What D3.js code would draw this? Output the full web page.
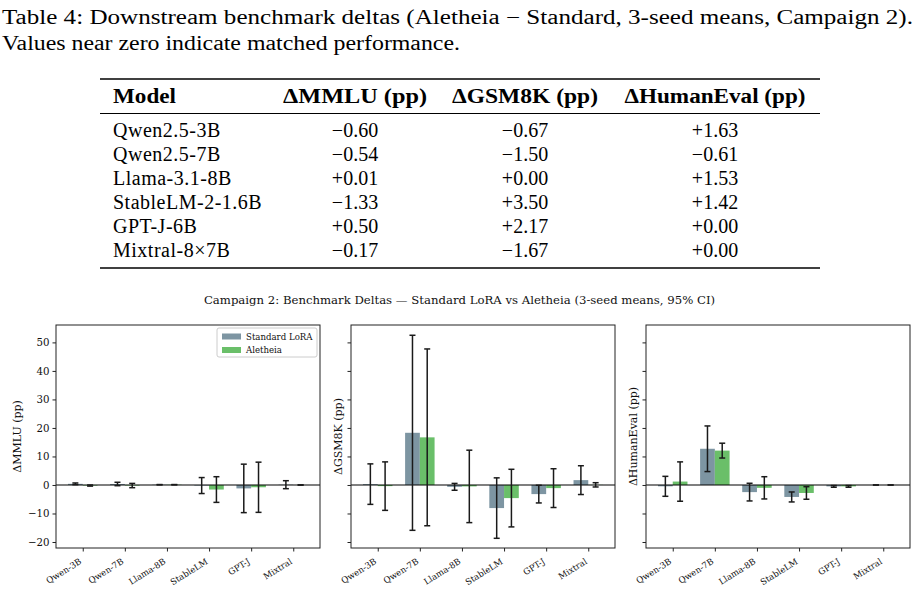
<!DOCTYPE html>
<html>
<head>
<meta charset="utf-8">
<script src="https://cdn.jsdelivr.net/npm/d3@7"></script>
<style>
body{margin:0;background:#fff}
svg text{font-family:"DejaVu Serif",serif;fill:#111}
svg text.tex{font-family:"Liberation Serif",serif;fill:#000}
</style>
</head>
<body>
<svg id="fig" width="918" height="591"></svg>
<script>
// table data
var tableHeaders = ['Model','ΔMMLU (pp)','ΔGSM8K (pp)','ΔHumanEval (pp)']
var tableModels = ['Qwen2.5-3B','Qwen2.5-7B','Llama-3.1-8B','StableLM-2-1.6B','GPT-J-6B','Mixtral-8×7B']
var tableMMLU = [-0.60,-0.54,0.01,-1.33,0.50,-0.17]
var tableGSM8K = [-0.67,-1.50,0.00,3.50,2.17,-1.67]
var tableHumanEval = [1.63,-0.61,1.53,1.42,0.00,0.00]

// chart data
var shortNames = ['Qwen-3B','Qwen-7B','Llama-8B','StableLM','GPT-J','Mixtral']
var seriesNames = ['Standard LoRA','Aletheia']
var stdMMLU   = [0.4,0.35,0.1,-0.2,-1.2,0.1]
var stdMMLUci = [0.3,0.6,0.05,2.8,8.5,1.4]
var aleMMLU   = [-0.2,-0.2,0.1,-1.6,-0.8,0.0]
var aleMMLUci = [0.2,0.75,0.05,4.5,8.8,0.05]
var stdGSM   = [0.3,18.3,-0.65,-8.1,-3.2,1.7]
var stdGSMci = [7.1,34.2,1.2,10.6,3.1,5.05]
var aleGSM   = [-0.4,16.7,-0.5,-4.6,-1.1,0.05]
var aleGSMci = [8.5,31.0,12.7,10.1,6.8,0.75]
var stdHE   = [-0.47,12.7,-2.5,-4.2,-0.5,0.0]
var stdHEci = [3.5,8.0,3.1,1.75,0.3,0.0]
var aleHE   = [1.2,12.05,-1.0,-2.8,-0.5,0.0]
var aleHEci = [6.9,2.6,3.9,2.2,0.3,0.0]
var yTicks = [-20,-10,0,10,20,30,40,50]
var yLabels = ['ΔMMLU (pp)','ΔGSM8K (pp)','ΔHumanEval (pp)']

var colorStd = '#7d95a2', colorAle = '#6abf69'
var svg = d3.select('#fig')

// caption
svg.append('text').attr('class','tex').attr('x',2).attr('y',24).attr('font-size',20)
  .attr('textLength',911).attr('lengthAdjust','spacingAndGlyphs')
  .text('Table 4:  Downstream benchmark deltas (Aletheia − Standard, 3-seed means, Campaign 2).')
svg.append('text').attr('class','tex').attr('x',2).attr('y',50).attr('font-size',20)
  .attr('textLength',458).attr('lengthAdjust','spacingAndGlyphs')
  .text('Values near zero indicate matched performance.')

// table
var fmt = d3.format('+.2f')
var colX = [113,355,525,715]
var headW = [63,144,146,181]
var rowY = d3.scaleLinear().domain([0,1]).range([137,161])
svg.append('line').attr('x1',100).attr('x2',820).attr('y1',79).attr('y2',79).attr('stroke','#000').attr('stroke-width',1.6)
svg.append('line').attr('x1',100).attr('x2',820).attr('y1',113.5).attr('y2',113.5).attr('stroke','#000').attr('stroke-width',1)
svg.append('line').attr('x1',100).attr('x2',820).attr('y1',268).attr('y2',268).attr('stroke','#000').attr('stroke-width',1.6)
tableHeaders.forEach(function(h,i){
  svg.append('text').attr('class','tex').attr('x',colX[i]).attr('y',103)
    .attr('font-size',20).attr('font-weight','bold')
    .attr('textLength',headW[i]).attr('lengthAdjust','spacingAndGlyphs')
    .attr('text-anchor',i==0?'start':'middle').text(h)
})
var cols = [tableMMLU,tableGSM8K,tableHumanEval]
tableModels.forEach(function(m,r){
  svg.append('text').attr('class','tex').attr('x',colX[0]).attr('y',rowY(r))
    .attr('font-size',20).attr('letter-spacing',0.5).text(m)
  cols.forEach(function(c,j){
    svg.append('text').attr('class','tex').attr('x',colX[j+1]).attr('y',rowY(r))
      .attr('font-size',20).attr('text-anchor','middle').text(fmt(c[r]))
  })
})

// chart title
svg.append('text').attr('x',459.5).attr('y',304).attr('font-size',11.7).attr('text-anchor','middle')
  .text('Campaign 2: Benchmark Deltas — Standard LoRA vs Aletheia (3-seed means, 95% CI)')

var plotTop = 325, plotBottom = 548
var panelLeft = [56,351,646], panelW = 264
var y = d3.scaleLinear().domain([-22.1,56.1]).range([plotBottom,plotTop])
var barW = 0.35
var panels = [
  {std:stdMMLU,stdCi:stdMMLUci,ale:aleMMLU,aleCi:aleMMLUci},
  {std:stdGSM,stdCi:stdGSMci,ale:aleGSM,aleCi:aleGSMci},
  {std:stdHE,stdCi:stdHEci,ale:aleHE,aleCi:aleHEci}
]

panels.forEach(function(p,k){
  var x0 = panelLeft[k]
  var x = d3.scaleLinear().domain([-0.635,5.635]).range([x0,x0+panelW])
  var g = svg.append('g')

  var series = [
    {key:seriesNames[0],vals:p.std,ci:p.stdCi,off:-barW/2,color:colorStd},
    {key:seriesNames[1],vals:p.ale,ci:p.aleCi,off:barW/2,color:colorAle}
  ]
  series.forEach(function(s){
    g.selectAll(null).data(s.vals).enter().append('rect')
      .attr('x',function(d,i){return x(i+s.off-barW/2)})
      .attr('width',x(barW)-x(0))
      .attr('y',function(d){return y(Math.max(0,d))})
      .attr('height',function(d){return Math.abs(y(d)-y(0))})
      .attr('fill',s.color)
  })
  g.append('line').attr('x1',x0).attr('x2',x0+panelW).attr('y1',y(0)).attr('y2',y(0))
    .attr('stroke','#000').attr('stroke-width',1.1)
  series.forEach(function(s){
    var eb = g.selectAll(null).data(s.vals).enter().append('g')
      .attr('stroke','#1a1a1a').attr('stroke-width',1.5)
    eb.append('line')
      .attr('x1',function(d,i){return x(i+s.off)}).attr('x2',function(d,i){return x(i+s.off)})
      .attr('y1',function(d,i){return y(d+s.ci[i])}).attr('y2',function(d,i){return y(d-s.ci[i])})
    ;[1,-1].forEach(function(sg){
      eb.append('line')
        .attr('x1',function(d,i){return x(i+s.off)-3}).attr('x2',function(d,i){return x(i+s.off)+3})
        .attr('y1',function(d,i){return y(d+sg*s.ci[i])}).attr('y2',function(d,i){return y(d+sg*s.ci[i])})
    })
  })

  // axes
  var yAxis = d3.axisLeft(y).tickValues(yTicks).tickSize(3.5).tickPadding(3)
    .tickFormat(k==0?d3.format('d'):'')
  var ya = svg.append('g').attr('transform','translate('+x0+',0)').call(yAxis)
  ya.select('.domain').remove()
  ya.selectAll('text').attr('font-size',10.2).attr('font-family','DejaVu Serif').attr('fill','#111')
  ya.selectAll('line').attr('stroke','#222')

  var xAxis = d3.axisBottom(x).tickValues(d3.range(6)).tickSize(3.5).tickFormat(function(i){return shortNames[i]})
  var xa = svg.append('g').attr('transform','translate(0,'+plotBottom+')').call(xAxis)
  xa.select('.domain').remove()
  xa.selectAll('line').attr('stroke','#222')
  xa.selectAll('text').attr('font-size',8.6).attr('font-family','DejaVu Serif').attr('fill','#111')
    .attr('text-anchor','end').attr('dy',0).attr('y',0)
    .attr('transform','translate(-1,15) rotate(-32)')

  svg.append('rect').attr('x',x0).attr('y',plotTop).attr('width',panelW).attr('height',plotBottom-plotTop)
    .attr('fill','none').attr('stroke','#222').attr('stroke-width',1)

  svg.append('text').attr('font-size',11).attr('text-anchor','middle')
    .attr('transform','translate('+(k==0?21:x0-9)+','+((plotTop+plotBottom)/2)+') rotate(-90)')
    .text(yLabels[k])

  if(k==0){
    var lg = svg.append('g').attr('transform','translate('+(x0+panelW-103)+','+(plotTop+3)+')')
    lg.append('rect').attr('width',100).attr('height',29).attr('rx',2)
      .attr('fill','#fff').attr('fill-opacity',0.8).attr('stroke','#ccc')
    series.forEach(function(s,i){
      lg.append('rect').attr('x',5).attr('y',5.5+i*13.5).attr('width',19).attr('height',6).attr('fill',s.color)
      lg.append('text').attr('x',29).attr('y',11.5+i*13.5).attr('font-size',8.6).text(s.key)
    })
  }
})
</script>
</body>
</html>
